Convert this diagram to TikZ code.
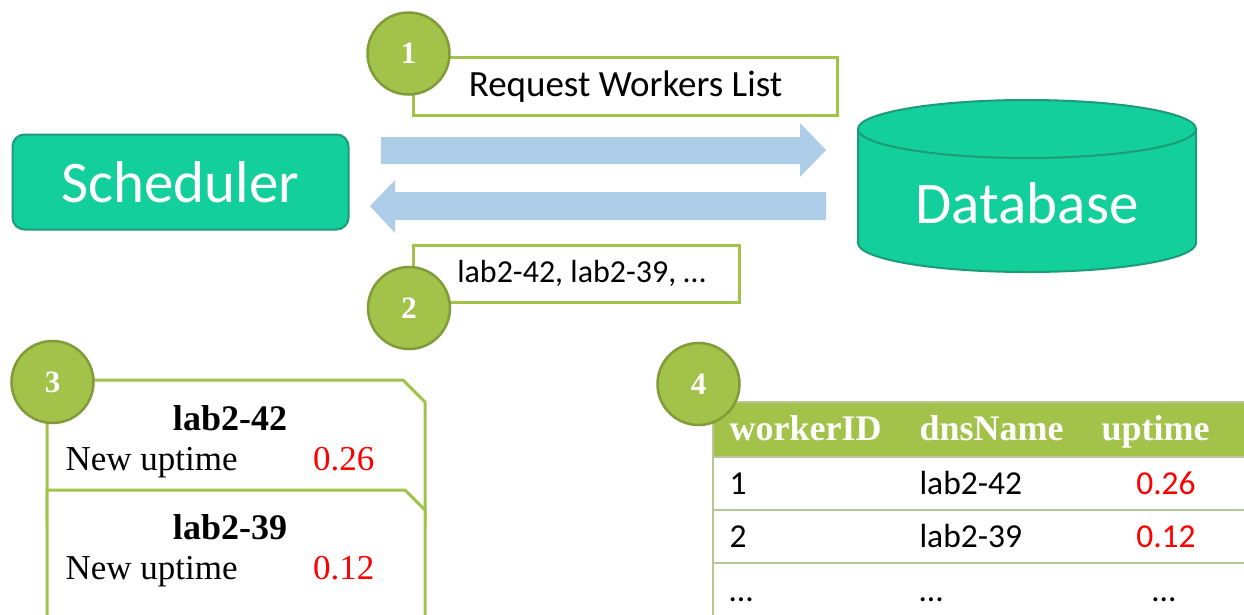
\documentclass[tikz,border=0pt]{standalone}
\usepackage{fontspec}
\setmainfont{Carlito}
\newfontfamily\cambriaish{Liberation Serif}
\definecolor{mintfill}{HTML}{12CF9B}
\definecolor{mintline}{HTML}{1C9B77}
\definecolor{olivefill}{HTML}{A3C24A}
\definecolor{oliveline}{HTML}{7F9C38}
\definecolor{flowblue}{HTML}{AECDE9}
\definecolor{rowline}{HTML}{B9C69A}
\definecolor{valred}{HTML}{FF0000}
\newcommand{\fs}[1]{\fontsize{#1}{#1}\selectfont}
\begin{document}
\begin{tikzpicture}[x=1pt,y=-1pt,
  mint/.style={fill=mintfill,draw=mintline,line width=2pt,text=white},
  badge/.style={circle,fill=olivefill,draw=oliveline,line width=2.5pt,
    minimum size=82pt,inner sep=0pt,text=white,
    font=\cambriaish\bfseries\fs{31}},
  labelbox/.style={draw=olivefill,line width=3pt,fill=white,inner sep=0pt},
  flow/.style={fill=flowblue},
  card/.style={draw=olivefill,line width=3pt,fill=white,line join=miter},
  cardtitle/.style={anchor=base,font=\cambriaish\bfseries\fs{36}},
  cardtext/.style={anchor=base west,font=\cambriaish\fs{35}},
  cardval/.style={anchor=base east,font=\cambriaish\fs{35},text=valred},
  head/.style={anchor=base west,text=white,font=\cambriaish\bfseries\fs{36}},
  cell/.style={anchor=base west,font=\fs{33.5}},
  cellval/.style={anchor=base,font=\fs{33.5},text=valred},
]
\useasboundingbox (0,0) rectangle (1244,614);

% Scheduler
\node[mint,rounded corners=12pt,minimum width=336pt,minimum height=95pt,
  font=\fs{59}] (sched) at (180.5,182) {Scheduler};

% Database cylinder: body, then the lid on top
\path[mint] (858,129) -- (858,243)
  arc[start angle=180,end angle=0,x radius=169,y radius=29]
  -- (1196,129) -- cycle;
\path[mint] (1027,129) ellipse[x radius=169,y radius=29];
\node[text=white,font=\fs{59}] (db) at (1027,203) {Database};

% request / reply block arrows
\path[flow] (381,137) -- (800,137) -- (800,123) -- (826,150) -- (800,177)
  -- (800,164) -- (381,164) -- cycle;
\path[flow] (826,192) -- (395,192) -- (395,180) -- (370,206) -- (395,233)
  -- (395,220) -- (826,220) -- cycle;

% message labels
\node[labelbox,minimum width=424pt,minimum height=58pt,font=\fs{37}]
  (req) at (625.5,86.5) {Request Workers List};
\node[labelbox,minimum width=326pt,minimum height=57pt,font=\fs{32}]
  (resp) at (576.5,273.5) {\hspace*{10pt}lab2-42, lab2-39, \dots};

% update cards
\path[card] (47,380) -- (403,380) -- (425,402) -- (425,525) -- (47,525) -- cycle;
\path[card] (47,490) -- (405,490) -- (425,510) -- (425,650) -- (47,650) -- cycle;
\node[cardtitle] (h1) at (230,430) {lab2-42};
\node[cardtext] (t1) at (62,470) {New uptime};
\node[cardval] (v1) at (378,470) {0.26};
\node[cardtitle] (h2) at (230,539) {lab2-39};
\node[cardtext] (t2) at (62,579) {New uptime};
\node[cardval] (v2) at (378,579) {0.12};

% workers table
\fill[olivefill] (713,402) rectangle (1250,457);
\draw[rowline,line width=1.5pt] (713,402) -- (1250,402);
\draw[rowline,line width=2pt] (713,457) -- (1250,457);
\draw[rowline,line width=2pt] (713,510) -- (1250,510);
\draw[rowline,line width=2pt] (713,563) -- (1250,563);
\draw[rowline,line width=1.5pt] (713,402) -- (713,620);
\node[head] (c1) at (726,440) {workerID};
\node[head] (c2) at (916,440) {dnsName};
\node[head] (c3) at (1098,440) {uptime};
\node[cell] (r11) at (726,494) {1};
\node[cell] (r12) at (916,494) {lab2-42};
\node[cellval] (r13) at (1166,494) {0.26};
\node[cell] (r21) at (726,547) {2};
\node[cell] (r22) at (916,547) {lab2-39};
\node[cellval] (r23) at (1166,547) {0.12};
\node[cell] (r31) at (726,601) {\dots};
\node[cell] (r32) at (916,601) {\dots};
\node[cellval,text=black] (r33) at (1164,601) {\dots};

% step badges
\node[badge] (s1) at (408.5,53.5) {1};
\node[badge] (s2) at (409,308) {2};
\node[badge] (s3) at (52.5,382) {3};
\node[badge] (s4) at (698.5,384) {4};
\end{tikzpicture}
\end{document}
